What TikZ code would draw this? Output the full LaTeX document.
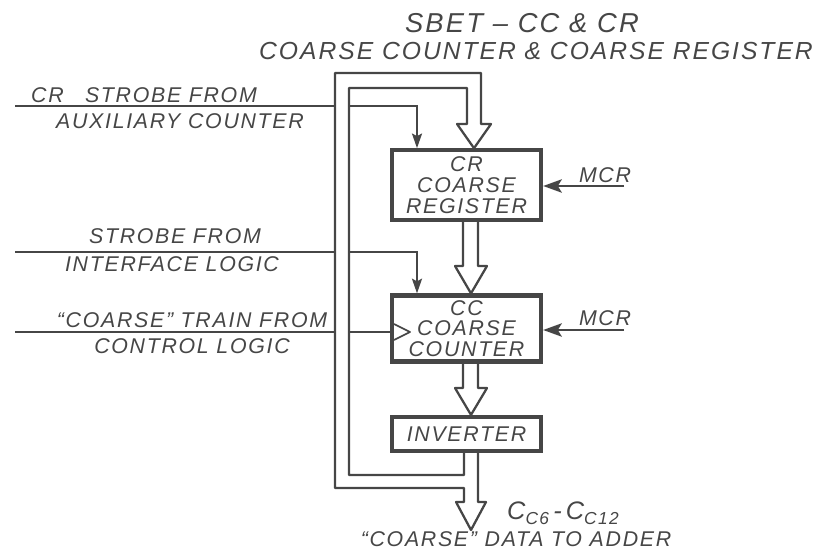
\documentclass[tikz,border=0pt]{standalone}
\usepackage{fontspec}
\newfontfamily\hand[LetterSpace=8]{Liberation Sans}
\usetikzlibrary{arrows.meta}
\definecolor{ink}{RGB}{70,70,70}
\begin{document}
\begin{tikzpicture}[x=0.75pt,y=-0.75pt,
  every node/.style={font=\hand\itshape\fontsize{16}{15.5}\selectfont, text=ink, inner sep=0pt},
  box/.style={draw=ink, line width=3.2pt, align=center, minimum width=111.75pt},
  wire/.style={draw=ink, line width=1.7pt},
  bus/.style={draw=ink, line width=1.7pt, line join=round},
  sig/.style={wire, -{Stealth[length=11pt,width=7.5pt,inset=2pt]}},
  mcr/.style={wire, -{Stealth[length=14pt,width=10pt,inset=3pt]}},
  big/.style={font=\hand\itshape\fontsize{18.5}{19}\selectfont},
  bigger/.style={font=\hand\itshape\fontsize{20.5}{21}\selectfont},
]
\useasboundingbox (0,0) rectangle (820,556);

% titles
\node[bigger] (t1) at (522,23) {SBET – CC \& CR};
\node[big] (t2) at (536,51) {COARSE COUNTER \& COARSE REGISTER};

% boxes
\node[box, minimum height=52pt] (cr) at (466.5,185) {CR\\COARSE\\REGISTER};
\node[box, minimum height=49.5pt] (cc) at (466.5,328.5) {CC\\COARSE\\COUNTER};
\node[box, minimum height=25.5pt] (inv) at (466.5,434) {INVERTER};

% feedback bus (double-line loop) and output bus
\coordinate (out) at (471,530);
\draw[bus] (464,0 |- inv.south) -- (464,475) -- (349,475) -- (349,88) -- (467,88)
  -- (467,124) -- (457,124) -- (474,0 |- cr.north) -- (491,124) -- (481,124)
  -- (481,73) -- (335,73) -- (335,488) -- (464,488) -- (464,502) -- (456,502)
  -- (out) -- (486,502) -- (478,502) -- (478,0 |- inv.south);

% buses between boxes
\draw[bus] (463,0 |- cr.south) -- (463,266) -- (455,266) -- (471,0 |- cc.north)
  -- (487,266) -- (478,266) -- (478,0 |- cr.south);
\draw[bus] (463,0 |- cc.south) -- (463,388) -- (455,388) -- (471,0 |- inv.north)
  -- (487,388) -- (478,388) -- (478,0 |- cc.south);

% input signals
\coordinate (s1) at (15,106);
\coordinate (s2) at (15,252);
\coordinate (s3) at (15,332);
\draw[wire] (s1) -- (335,106);
\draw[sig] (349,106) -- (417,106) -- (417,0 |- cr.north);
\draw[wire] (s2) -- (335,252);
\draw[sig] (349,252) -- (417,252) -- (417,0 |- cc.north);
\draw[wire] (s3) -- (335,332);
\draw[wire] (349,332) -- (cc.west |- 0,332);
\draw[draw=ink, line width=1.3pt, line join=round] (394,324) -- (410,332) -- (394,340);

% MCR inputs
\coordinate (m1) at (624,186);
\coordinate (m2) at (624,330);
\draw[mcr] (m1) -- (cr.east |- m1);
\draw[mcr] (m2) -- (cc.east |- m2);
\node (mcr1) at (605,175) {MCR};
\node (mcr2) at (605,318) {MCR};

% left labels
\node (l1) at (144,95) {CR\hspace{16pt}STROBE FROM};
\node (l2) at (180,121) {AUXILIARY COUNTER};
\node (l3) at (175,236) {STROBE FROM};
\node (l4) at (172,264) {INTERFACE LOGIC};
\node (l5) at (192,320) {“COARSE” TRAIN FROM};
\node (l6) at (192,346) {CONTROL LOGIC};

% output labels
\node[font=\hand\itshape\fontsize{19}{19}\selectfont] (o1) at (563,513)
  {C\raisebox{-4pt}{\fontsize{13}{13}\selectfont C6}\,-\,C\raisebox{-4pt}{\fontsize{13}{13}\selectfont C12}};
\node (o2) at (516,539) {“COARSE” DATA TO ADDER};
\end{tikzpicture}
\end{document}
